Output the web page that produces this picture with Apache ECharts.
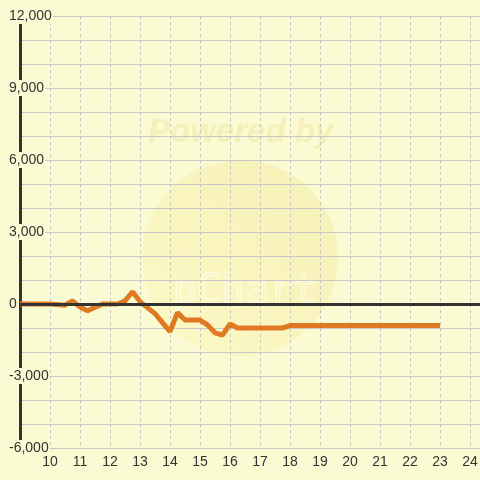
<!DOCTYPE html>
<html>
<head>
<meta charset="utf-8">
<script src="https://cdn.jsdelivr.net/npm/echarts@6/dist/echarts.min.js"></script>
<style>
  html, body { margin: 0; padding: 0; background: #fbfbd3; }
  #chart { width: 480px; height: 480px; }
</style>
</head>
<body>
<div id="chart"></div>
<script>
// hour of day (decimal) and value
var hours  = [9, 10, 10.5, 10.75, 11, 11.25, 11.75, 12.25, 12.5, 12.75, 13, 13.5, 14, 14.25, 14.5, 15, 15.25, 15.5, 15.75, 16, 16.25, 17.75, 18, 23];
var values = [0, 0, -50, 130, -130, -280, 0, 0, 130, 510, 100, -400, -1150, -360, -670, -670, -870, -1200, -1300, -830, -1000, -1000, -900, -900];
var yLabelStep = 3000;

var points = [];
for (var i = 0; i < hours.length; i++) {
	points.push([hours[i], values[i]]);
}

var chart = echarts.init(document.getElementById('chart'));
var bg = '#fbfbd3';

var option = {
	backgroundColor: bg,
	animation: false,
	textStyle: { fontFamily: 'Liberation Sans, Arial, sans-serif' },
	graphic: [
		{
			type: 'circle', z: -10, silent: true,
			shape: { cx: 240, cy: 258, r: 98 },
			style: {
				fill: new echarts.graphic.LinearGradient(1, 0, 0, 1, [
					{ offset: 0, color: 'rgba(240,225,150,0.45)' },
					{ offset: 1, color: 'rgba(255,245,170,0.35)' }
				])
			}
		},
		{
			type: 'text', z: -10, silent: true,
			left: 148, top: 116,
			style: {
				text: 'Powered by',
				font: 'italic bold 33px Liberation Sans, Arial, sans-serif',
				fill: 'rgba(235,220,140,0.35)'
			}
		},
		{
			type: 'text', z: -10, silent: true,
			left: 172, top: 272,
			style: {
				text: 'pChart',
				font: '40px DejaVu Sans Mono, monospace',
				fill: 'none',
				stroke: 'rgba(255,255,240,0.6)',
				lineWidth: 1.5
			}
		}
	],
	grid: { left: 20, right: 0, top: 16, bottom: 32, outerBoundsMode: 'none', containLabel: false },
	xAxis: {
		type: 'value',
		min: 9,
		max: 9 + 460 / 30,
		interval: 1,
		axisLine: { show: false },
		axisTick: { show: false },
		axisLabel: {
			color: '#333', fontSize: 14, margin: 7,
			showMaxLabel: true,
			formatter: function (v) {
				return (v === 9 || v !== Math.round(v)) ? '' : String(v);
			}
		},
		splitLine: { show: true, lineStyle: { color: '#c4c4c4', type: [3, 3], width: 1 } }
	},
	yAxis: {
		type: 'value',
		min: -6000,
		max: 12000,
		interval: 1000,
		axisLine: { show: true, lineStyle: { color: '#333', width: 3 } },
		axisTick: { show: false },
		axisLabel: {
			color: '#333', fontSize: 14, align: 'left', margin: 12,
			backgroundColor: bg, padding: [1, 1],
			formatter: function (v) {
				return (v % yLabelStep === 0) ? v.toLocaleString('en-US') : '';
			}
		},
		splitLine: { show: true, lineStyle: { color: '#c8c8c8', width: 1 } }
	},
	series: [
		{
			type: 'line', z: 1, silent: true,
			data: [],
			markLine: {
				silent: true, symbol: 'none', label: { show: false },
				lineStyle: { color: '#333', width: 3, type: 'solid' },
				data: [{ yAxis: 0 }]
			}
		},
		{
			type: 'line', z: 3,
			data: points,
			showSymbol: false,
			lineStyle: { color: '#e07a22', width: 5 },
			itemStyle: { color: '#e07a22' }
		}
	]
};

chart.setOption(option);
</script>
</body>
</html>
